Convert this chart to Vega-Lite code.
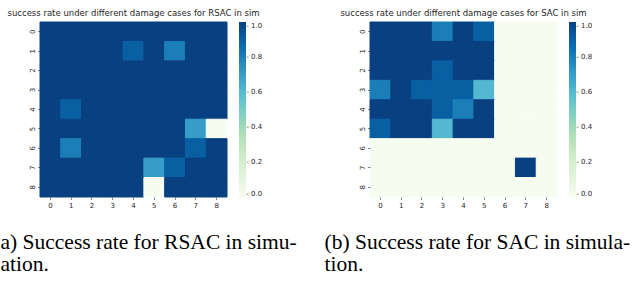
{
  "$schema": "https://vega.github.io/schema/vega-lite/v6.json",
  "background": "white",
  "padding": {"left": 0, "top": 9, "right": 0, "bottom": 0},
  "bounds": "flush",
  "spacing": 143,
  "datasets": {
    "rsac": [
      {"r":0,"c":0,"v":1},{"r":0,"c":1,"v":1},{"r":0,"c":2,"v":1},{"r":0,"c":3,"v":1},{"r":0,"c":4,"v":1},{"r":0,"c":5,"v":1},{"r":0,"c":6,"v":1},{"r":0,"c":7,"v":1},{"r":0,"c":8,"v":1},
      {"r":1,"c":0,"v":1},{"r":1,"c":1,"v":1},{"r":1,"c":2,"v":1},{"r":1,"c":3,"v":1},{"r":1,"c":4,"v":0.9},{"r":1,"c":5,"v":1},{"r":1,"c":6,"v":0.8},{"r":1,"c":7,"v":1},{"r":1,"c":8,"v":1},
      {"r":2,"c":0,"v":1},{"r":2,"c":1,"v":1},{"r":2,"c":2,"v":1},{"r":2,"c":3,"v":1},{"r":2,"c":4,"v":1},{"r":2,"c":5,"v":1},{"r":2,"c":6,"v":1},{"r":2,"c":7,"v":1},{"r":2,"c":8,"v":1},
      {"r":3,"c":0,"v":1},{"r":3,"c":1,"v":1},{"r":3,"c":2,"v":1},{"r":3,"c":3,"v":1},{"r":3,"c":4,"v":1},{"r":3,"c":5,"v":1},{"r":3,"c":6,"v":1},{"r":3,"c":7,"v":1},{"r":3,"c":8,"v":1},
      {"r":4,"c":0,"v":1},{"r":4,"c":1,"v":0.9},{"r":4,"c":2,"v":1},{"r":4,"c":3,"v":1},{"r":4,"c":4,"v":1},{"r":4,"c":5,"v":1},{"r":4,"c":6,"v":1},{"r":4,"c":7,"v":1},{"r":4,"c":8,"v":1},
      {"r":5,"c":0,"v":1},{"r":5,"c":1,"v":1},{"r":5,"c":2,"v":1},{"r":5,"c":3,"v":1},{"r":5,"c":4,"v":1},{"r":5,"c":5,"v":1},{"r":5,"c":6,"v":1},{"r":5,"c":7,"v":0.7},{"r":5,"c":8,"v":0},
      {"r":6,"c":0,"v":1},{"r":6,"c":1,"v":0.8},{"r":6,"c":2,"v":1},{"r":6,"c":3,"v":1},{"r":6,"c":4,"v":1},{"r":6,"c":5,"v":1},{"r":6,"c":6,"v":1},{"r":6,"c":7,"v":0.9},{"r":6,"c":8,"v":1},
      {"r":7,"c":0,"v":1},{"r":7,"c":1,"v":1},{"r":7,"c":2,"v":1},{"r":7,"c":3,"v":1},{"r":7,"c":4,"v":1},{"r":7,"c":5,"v":0.7},{"r":7,"c":6,"v":0.9},{"r":7,"c":7,"v":1},{"r":7,"c":8,"v":1},
      {"r":8,"c":0,"v":1},{"r":8,"c":1,"v":1},{"r":8,"c":2,"v":1},{"r":8,"c":3,"v":1},{"r":8,"c":4,"v":1},{"r":8,"c":5,"v":0},{"r":8,"c":6,"v":1},{"r":8,"c":7,"v":1},{"r":8,"c":8,"v":1}
    ],
    "sac": [
      {"r":0,"c":0,"v":1},{"r":0,"c":1,"v":1},{"r":0,"c":2,"v":1},{"r":0,"c":3,"v":0.8},{"r":0,"c":4,"v":1},{"r":0,"c":5,"v":0.9},{"r":0,"c":6,"v":0},{"r":0,"c":7,"v":0},{"r":0,"c":8,"v":0},
      {"r":1,"c":0,"v":1},{"r":1,"c":1,"v":1},{"r":1,"c":2,"v":1},{"r":1,"c":3,"v":1},{"r":1,"c":4,"v":1},{"r":1,"c":5,"v":1},{"r":1,"c":6,"v":0},{"r":1,"c":7,"v":0},{"r":1,"c":8,"v":0},
      {"r":2,"c":0,"v":1},{"r":2,"c":1,"v":1},{"r":2,"c":2,"v":1},{"r":2,"c":3,"v":0.9},{"r":2,"c":4,"v":1},{"r":2,"c":5,"v":1},{"r":2,"c":6,"v":0},{"r":2,"c":7,"v":0},{"r":2,"c":8,"v":0},
      {"r":3,"c":0,"v":0.8},{"r":3,"c":1,"v":1},{"r":3,"c":2,"v":0.9},{"r":3,"c":3,"v":0.9},{"r":3,"c":4,"v":0.9},{"r":3,"c":5,"v":0.6},{"r":3,"c":6,"v":0},{"r":3,"c":7,"v":0},{"r":3,"c":8,"v":0},
      {"r":4,"c":0,"v":1},{"r":4,"c":1,"v":1},{"r":4,"c":2,"v":1},{"r":4,"c":3,"v":0.9},{"r":4,"c":4,"v":0.8},{"r":4,"c":5,"v":1},{"r":4,"c":6,"v":0},{"r":4,"c":7,"v":0},{"r":4,"c":8,"v":0},
      {"r":5,"c":0,"v":0.9},{"r":5,"c":1,"v":1},{"r":5,"c":2,"v":1},{"r":5,"c":3,"v":0.6},{"r":5,"c":4,"v":1},{"r":5,"c":5,"v":1},{"r":5,"c":6,"v":0},{"r":5,"c":7,"v":0},{"r":5,"c":8,"v":0},
      {"r":6,"c":0,"v":0},{"r":6,"c":1,"v":0},{"r":6,"c":2,"v":0},{"r":6,"c":3,"v":0},{"r":6,"c":4,"v":0},{"r":6,"c":5,"v":0},{"r":6,"c":6,"v":0},{"r":6,"c":7,"v":0},{"r":6,"c":8,"v":0},
      {"r":7,"c":0,"v":0},{"r":7,"c":1,"v":0},{"r":7,"c":2,"v":0},{"r":7,"c":3,"v":0},{"r":7,"c":4,"v":0},{"r":7,"c":5,"v":0},{"r":7,"c":6,"v":0},{"r":7,"c":7,"v":1},{"r":7,"c":8,"v":0},
      {"r":8,"c":0,"v":0},{"r":8,"c":1,"v":0},{"r":8,"c":2,"v":0},{"r":8,"c":3,"v":0},{"r":8,"c":4,"v":0},{"r":8,"c":5,"v":0},{"r":8,"c":6,"v":0},{"r":8,"c":7,"v":0},{"r":8,"c":8,"v":0}
    ]
  },
  "hconcat": [
    {
      "width": 187,
      "height": 175,
      "title": {"text": "success rate under different damage cases for RSAC in sim"},
      "data": {"name": "rsac"},
      "mark": {"type": "rect", "strokeWidth": 1},
      "encoding": {
        "x": {"field": "c", "type": "ordinal", "axis": {"labelAngle": 0, "title": ["a) Success rate for RSAC in simu-", "ation."], "titleX": -40, "titleY": 51}},
        "y": {"field": "r", "type": "ordinal", "axis": {"labelAngle": -90, "labelAlign": "center", "labelBaseline": "bottom", "title": null}},
        "color": {"field": "v", "type": "quantitative",
          "scale": {"domain": [0, 0.125, 0.25, 0.375, 0.5, 0.625, 0.75, 0.875, 1], "range": ["#f7fcf0", "#e0f3db", "#ccebc5", "#a8ddb5", "#7bccc4", "#4eb3d3", "#2b8cbe", "#0868ac", "#084081"]},
          "legend": {"orient": "none", "legendX": 199, "legendY": 0, "title": null, "values": [0, 0.2, 0.4, 0.6, 0.8, 1],
            "gradientLength": 175, "gradientThickness": 7, "direction": "vertical", "gradientStrokeWidth": 0, "padding": 0,
            "labelFont": "DejaVu Sans", "labelFontSize": 7, "labelColor": "#262626", "labelOffset": 0.3, "labelBaseline": "middle", "labelOverlap": false,
            "labelExpr": "'- ' + format(datum.value, '.1f')"}},
        "stroke": {"field": "v", "type": "quantitative",
          "scale": {"domain": [0, 0.125, 0.25, 0.375, 0.5, 0.625, 0.75, 0.875, 1], "range": ["#f7fcf0", "#e0f3db", "#ccebc5", "#a8ddb5", "#7bccc4", "#4eb3d3", "#2b8cbe", "#0868ac", "#084081"]},
          "legend": null}
      }
    },
    {
      "width": 187,
      "height": 175,
      "title": {"text": "success rate under different damage cases for SAC in sim"},
      "data": {"name": "sac"},
      "mark": {"type": "rect", "strokeWidth": 1},
      "encoding": {
        "x": {"field": "c", "type": "ordinal", "axis": {"labelAngle": 0, "title": ["(b) Success rate for SAC in simula-", "tion."], "titleX": -46, "titleY": 51}},
        "y": {"field": "r", "type": "ordinal", "axis": {"labelAngle": -90, "labelAlign": "center", "labelBaseline": "bottom", "title": null}},
        "color": {"field": "v", "type": "quantitative",
          "scale": {"domain": [0, 0.125, 0.25, 0.375, 0.5, 0.625, 0.75, 0.875, 1], "range": ["#f7fcf0", "#e0f3db", "#ccebc5", "#a8ddb5", "#7bccc4", "#4eb3d3", "#2b8cbe", "#0868ac", "#084081"]},
          "legend": {"orient": "none", "legendX": 199, "legendY": 0, "title": null, "values": [0, 0.2, 0.4, 0.6, 0.8, 1],
            "gradientLength": 175, "gradientThickness": 7, "direction": "vertical", "gradientStrokeWidth": 0, "padding": 0,
            "labelFont": "DejaVu Sans", "labelFontSize": 7, "labelColor": "#262626", "labelOffset": 0.3, "labelBaseline": "middle", "labelOverlap": false,
            "labelExpr": "'- ' + format(datum.value, '.1f')"}},
        "stroke": {"field": "v", "type": "quantitative",
          "scale": {"domain": [0, 0.125, 0.25, 0.375, 0.5, 0.625, 0.75, 0.875, 1], "range": ["#f7fcf0", "#e0f3db", "#ccebc5", "#a8ddb5", "#7bccc4", "#4eb3d3", "#2b8cbe", "#0868ac", "#084081"]},
          "legend": null}
      }
    }
  ],
  "resolve": {"scale": {"color": "independent"}, "legend": {"color": "independent"}},
  "config": {
    "view": {"stroke": null},
    "scale": {"bandPaddingInner": 0, "bandPaddingOuter": 0},
    "axis": {
      "labelFont": "DejaVu Sans", "labelFontSize": 7, "labelColor": "#262626",
      "tickColor": "#262626", "tickSize": 2.4, "tickWidth": 0.6, "labelPadding": 2.4,
      "domain": false, "grid": false,
      "titleFont": "Liberation Serif", "titleFontSize": 21.5, "titleFontWeight": "normal", "titleColor": "#000000",
      "titleAlign": "left", "titleBaseline": "alphabetic", "titleLineHeight": 22.5, "titleAngle": 0
    },
    "title": {
      "font": "DejaVu Sans", "fontSize": 8.5, "fontWeight": "normal", "color": "#262626",
      "frame": "group", "anchor": "middle", "baseline": "alphabetic", "offset": 4
    }
  }
}
